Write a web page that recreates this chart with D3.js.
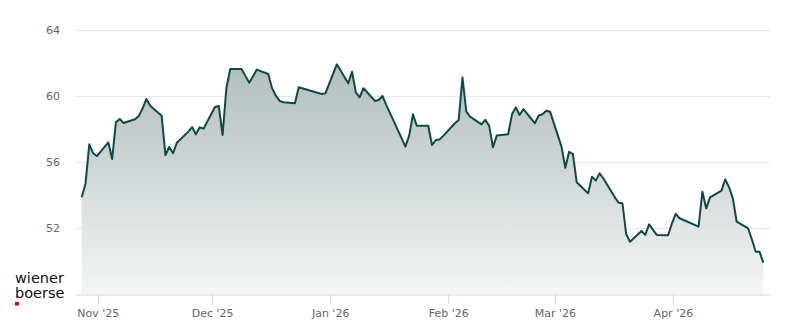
<!DOCTYPE html>
<html>
<head>
<meta charset="utf-8">
<script src="https://cdn.jsdelivr.net/npm/d3@7"></script>
<style>
  body { margin: 0; background: #fff; }
  svg { display: block; }
</style>
</head>
<body>
<div id="chart"></div>
<script>
// Closing prices (trading days)
const dates = [
  "2025-10-27","2025-10-28","2025-10-29","2025-10-30","2025-10-31",
  "2025-11-03","2025-11-04","2025-11-05","2025-11-06","2025-11-07",
  "2025-11-10","2025-11-11","2025-11-12","2025-11-13","2025-11-14",
  "2025-11-17","2025-11-18","2025-11-19","2025-11-20","2025-11-21",
  "2025-11-24","2025-11-25","2025-11-26","2025-11-27","2025-11-28",
  "2025-12-01","2025-12-02","2025-12-03","2025-12-04","2025-12-05",
  "2025-12-08","2025-12-09","2025-12-10","2025-12-11","2025-12-12",
  "2025-12-15","2025-12-16","2025-12-17","2025-12-18","2025-12-19",
  "2025-12-22","2025-12-23","2025-12-29","2025-12-30",
  "2026-01-02","2026-01-05","2026-01-06","2026-01-07","2026-01-08","2026-01-09",
  "2026-01-12","2026-01-13","2026-01-14","2026-01-15","2026-01-16",
  "2026-01-19","2026-01-20","2026-01-21","2026-01-22","2026-01-23",
  "2026-01-26","2026-01-27","2026-01-28","2026-01-29","2026-01-30",
  "2026-02-02","2026-02-03","2026-02-04","2026-02-05","2026-02-06",
  "2026-02-09","2026-02-10","2026-02-11","2026-02-12","2026-02-13",
  "2026-02-16","2026-02-17","2026-02-18","2026-02-19","2026-02-20",
  "2026-02-23","2026-02-24","2026-02-25","2026-02-26","2026-02-27",
  "2026-03-02","2026-03-03","2026-03-04","2026-03-05","2026-03-06",
  "2026-03-09","2026-03-10","2026-03-11","2026-03-12","2026-03-13",
  "2026-03-16","2026-03-17","2026-03-18","2026-03-19","2026-03-20",
  "2026-03-23","2026-03-24","2026-03-25","2026-03-26","2026-03-27",
  "2026-03-30","2026-03-31","2026-04-01","2026-04-02",
  "2026-04-07","2026-04-08","2026-04-09","2026-04-10",
  "2026-04-13","2026-04-14","2026-04-15","2026-04-16","2026-04-17",
  "2026-04-20","2026-04-21","2026-04-22","2026-04-23","2026-04-24"
];
const prices = [
  53.86, 54.67, 57.07, 56.53, 56.36,
  57.19, 56.18, 58.41, 58.61, 58.36,
  58.59, 58.79, 59.25, 59.82, 59.41,
  58.81, 56.42, 56.91, 56.53, 57.17,
  57.84, 58.12, 57.68, 58.10, 58.02,
  59.33, 59.39, 57.64, 60.47, 61.64,
  61.64, 61.22, 60.81, 61.20, 61.60,
  61.33, 60.47, 60.02, 59.70, 59.62,
  59.56, 60.53, 60.12, 60.16,
  61.92, 60.77, 61.47, 60.22, 59.92, 60.47,
  59.70, 59.76, 60.00, 59.45, 58.95,
  57.45, 56.93, 57.60, 58.89, 58.20,
  58.20, 57.03, 57.33, 57.37, 57.60,
  58.35, 58.55, 61.12, 59.05, 58.75,
  58.28, 58.55, 58.20, 56.89, 57.60,
  57.68, 58.89, 59.31, 58.85, 59.21,
  58.35, 58.81, 58.89, 59.11, 59.05,
  56.93, 55.65, 56.62, 56.48, 54.77,
  54.10, 55.11, 54.87, 55.31, 55.00,
  53.86, 53.53, 53.50, 51.62, 51.17,
  51.82, 51.58, 52.22, 51.90, 51.58,
  51.56, 52.28, 52.85, 52.59,
  52.08, 54.20, 53.19, 53.86,
  54.26, 54.95, 54.47, 53.80, 52.38,
  51.98, 51.30, 50.56, 50.56, 49.90
];
const yTicks = [52, 56, 60, 64];
const closeTime = "18:00"; // timestamps are taken at market close

// Layout
const width = 800, height = 324;
const plot = { left: 75, right: 770, top: 30, bottom: 294 };

const parse = d3.timeParse("%Y-%m-%d %H:%M");
const data = dates.map((d, i) => ({ date: parse(d + " " + closeTime), value: prices[i] }));

const x = d3.scaleTime()
  .domain([new Date(2025, 9, 26, 0), new Date(2026, 3, 26, 12)])
  .range([plot.left, plot.right]);
const y = d3.scaleLinear()
  .domain([48, 64])
  .range([plot.bottom, plot.top]);

const svg = d3.select("#chart").append("svg")
  .attr("width", width)
  .attr("height", height);

// gradient for the area
const grad = svg.append("defs").append("linearGradient")
  .attr("id", "areaFill")
  .attr("gradientUnits", "userSpaceOnUse")
  .attr("x1", 0).attr("x2", 0)
  .attr("y1", y(62)).attr("y2", y(48));
grad.append("stop").attr("offset", "0%").attr("stop-color", "#b1bdbc");
grad.append("stop").attr("offset", "100%").attr("stop-color", "#f4f5f5");

// Gridlines
svg.append("g")
  .selectAll("line")
  .data(yTicks)
  .enter()
  .append("line")
  .attr("x1", plot.left)
  .attr("x2", plot.right)
  .attr("y1", d => Math.round(y(d)) + 0.5)
  .attr("y2", d => Math.round(y(d)) + 0.5)
  .attr("stroke", "#e6e6e6")
  .attr("stroke-width", 1);

// Y labels
svg.append("g")
  .selectAll("text")
  .data(yTicks)
  .enter()
  .append("text")
  .attr("x", 60)
  .attr("y", d => y(d))
  .attr("dy", "0.35em")
  .attr("text-anchor", "end")
  .style("font-family", "DejaVu Sans, sans-serif")
  .style("font-size", "11px")
  .style("fill", "#666666")
  .text(d => d);

// Area + line
const area = d3.area()
  .x(d => x(d.date))
  .y0(y(48))
  .y1(d => y(d.value));
const line = d3.line()
  .x(d => x(d.date))
  .y(d => y(d.value));

svg.append("path")
  .datum(data)
  .attr("d", area)
  .attr("fill", "url(#areaFill)");

svg.append("path")
  .datum(data)
  .attr("d", line)
  .attr("fill", "none")
  .attr("stroke", "#0e4a45")
  .attr("stroke-width", 2)
  .attr("stroke-linejoin", "round");

// X axis
const xAxis = d3.axisBottom(x)
  .ticks(d3.timeMonth.every(1))
  .tickFormat(d3.timeFormat("%b '%y"))
  .tickSizeInner(10)
  .tickSizeOuter(0)
  .tickPadding(5);

const gx = svg.append("g")
  .attr("transform", `translate(0,${plot.bottom + 0.5})`)
  .call(xAxis);
gx.select(".domain").attr("stroke", "#ccd6eb");
gx.selectAll(".tick line").attr("stroke", "#ccd6eb");
gx.selectAll(".tick text")
  .style("font-family", "DejaVu Sans, sans-serif")
  .style("font-size", "11px")
  .style("fill", "#666666");

// Logo
const logo = svg.append("g")
  .style("font-family", "DejaVu Sans, sans-serif")
  .style("font-size", "14.5px")
  .style("fill", "#111111");
logo.append("text").attr("x", 15).attr("y", 283).text("wiener");
logo.append("text").attr("x", 15).attr("y", 297.5).text("boerse");
logo.append("rect")
  .attr("x", 15).attr("y", 302)
  .attr("width", 4).attr("height", 3.5)
  .attr("fill", "#d0021b");
</script>
</body>
</html>
